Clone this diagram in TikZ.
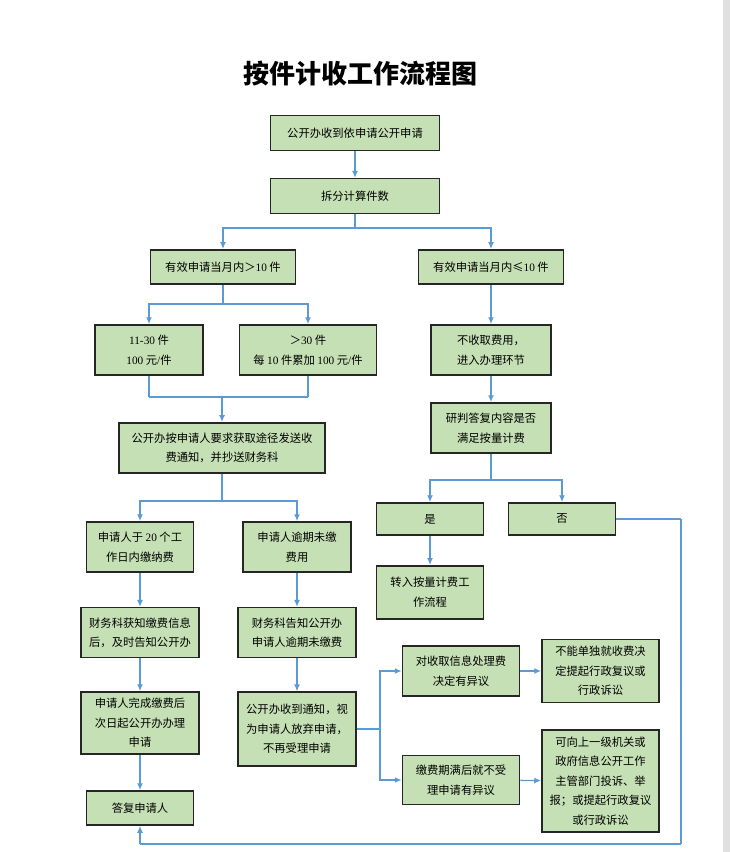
\documentclass[tikz,border=0pt]{standalone}
\usepackage{fontspec}
\setmainfont{Liberation Serif}
\newfontfamily\cjk{Noto Sans CJK SC}
\usepackage{tikz}
\usetikzlibrary{
  arrows.meta,
  chains,
  positioning,
  scopes
}
\definecolor{boxgreen}{HTML}{C5E0B4}
\definecolor{linkblue}{HTML}{5B9BD5}
\newcommand{\num}[1]{{\rmfamily #1}}

\begin{document}
\begin{tikzpicture}[
      x=1pt, y=-1pt,
      box/.style={
         rectangle,
         inner sep=0pt,
         line width=1.5pt,
         draw=black!85,
         fill=boxgreen,
         align=center,
         font=\cjk\fontsize{11.3}{19.5}\selectfont
      },
      boxsize/.style 2 args={minimum width=#1pt, minimum height=#2pt},
      point/.style={coordinate},>={Latex[length=7pt,width=6pt]},
      tip/.style={->},every join/.style={draw=linkblue, line width=1.4pt},
      hv path/.style={to path={-| (\tikztotarget)}},
      vh path/.style={to path={|- (\tikztotarget)}},
    ]
    \useasboundingbox (0,0) rectangle (730,852);
    \fill[black!12] (723,0) rectangle (730,852);
    \node (title) at (360,74) {\cjk\bfseries\fontsize{26}{30}\selectfont 按件计收工作流程图};
    % left branch
    \node (recv)   [box, boxsize={169.4}{34.6}] at (355,133) {公开办收到依申请公开申请};
    \node (split)  [box, boxsize={169.4}{34.6}] at (355,196) {拆分计算件数};
    \node (over)   [box, boxsize={144.7}{34.3}] at (223,267) {有效申请当月内＞\num{10} 件};
    \node (under)  [box, boxsize={144.7}{34.3}] at (491,267) {有效申请当月内≤\num{10} 件};
    \node (range)  [box, boxsize={108.4}{50}]   at (149,350) {\num{11-30} 件\\\num{100} 元\num{/}件};
    \node (above)  [box, boxsize={136.9}{50}]   at (308,350) {＞\num{30} 件\\每 \num{10} 件累加 \num{100} 元\num{/}件};
    \node (notify) [box, boxsize={205.7}{50.3}] at (222,448) {公开办按申请人要求获取途径发送收\\费通知，并抄送财务科};
    \node (paid)   [box, boxsize={107.2}{50}]   at (140,547) {申请人于 \num{20} 个工\\作日内缴纳费};
    \node (unpaid) [box, boxsize={108}{50}]     at (297,547) {申请人逾期未缴\\费用};
    \node (fin)    [box, boxsize={118}{50}]     at (140,632.7) {财务科获知缴费信息\\后，及时告知公开办};
    \node (finlate)[box, boxsize={118}{50}]     at (297,632.7) {财务科告知公开办\\申请人逾期未缴费};
    \node (done)   [box, boxsize={118}{62}]     at (140,723) {申请人完成缴费后\\次日起公开办办理\\申请};
    \node (drop)   [box, boxsize={118}{73.7}]   at (297,729) {公开办收到通知，视\\为申请人放弃申请，\\不再受理申请};
    \node (reply)  [box, boxsize={107}{34}]     at (140,808) {答复申请人};
    % right branch
    \node (free)   [box, boxsize={120}{50}]     at (491,350) {不收取费用，\\进入办理环节};
    \node (judge)  [box, boxsize={120}{50}]     at (491,428) {研判答复内容是否\\满足按量计费};
    \node (yes)    [box, boxsize={107}{32}]     at (430,519) {是};
    \node (no)     [box, boxsize={107.4}{32}]   at (562,519) {否};
    \node (volume) [box, boxsize={107}{53.3}]   at (430,592.4) {转入按量计费工\\作流程};
    \node (object) [box, boxsize={117}{50}]     at (461,671) {对收取信息处理费\\决定有异议};
    \node (noappeal)[box, boxsize={117}{63}]    at (600.5,671) {不能单独就收费决\\定提起行政复议或\\行政诉讼};
    \node (late)   [box, boxsize={117}{49.3}]   at (461,780) {缴费期满后就不受\\理申请有异议};
    \node (complain)[box, boxsize={117}{101.7}] at (600.5,781) {可向上一级机关或\\政府信息公开工作\\主管部门投诉、举\\报；或提起行政复议\\或行政诉讼};
    % branch points
    \node (sp1) [point] at (355,228) {};
    \node (sp2) [point] at (223,304) {};
    \node (m5)  [point] at (149,397) {};
    \node (m6)  [point] at (308,397) {};
    \node (mg)  [point] at (222,397) {};
    \node (sp3) [point] at (222,501) {};
    \node (sp4) [point] at (380,729) {};
    \node (sp5) [point] at (491,480) {};
    \node (c1)  [point] at (681,519) {};
    \node (c2)  [point] at (681,844) {};
    \node (c3)  [point] at (140,844) {};
  { [start chain]
       \chainin (recv);
       \chainin (split)    [join=by tip];
       \chainin (sp1)      [join];
       \chainin (over)     [join=by {hv path,tip}];
  }
  { [start chain]
       \chainin (sp1);
       \chainin (under)    [join=by {hv path,tip}];
       \chainin (free)     [join=by tip];
       \chainin (judge)    [join=by tip];
       \chainin (sp5)      [join];
       \chainin (yes)      [join=by {hv path,tip}];
       \chainin (volume)   [join=by tip];
  }
  { [start chain]
       \chainin (sp5);
       \chainin (no)       [join=by {hv path,tip}];
       \chainin (c1)       [join];
       \chainin (c2)       [join];
       \chainin (c3)       [join];
       \chainin (reply)    [join=by tip];
  }
  { [start chain]
       \chainin (over);
       \chainin (sp2)      [join];
       \chainin (range)    [join=by {hv path,tip}];
       \chainin (m5)       [join];
       \chainin (m6)       [join];
       \chainin (above)    [join];
  }
  { [start chain]
       \chainin (sp2);
       \chainin (above)    [join=by {hv path,tip}];
  }
  { [start chain]
       \chainin (mg);
       \chainin (notify)   [join=by tip];
       \chainin (sp3)      [join];
       \chainin (paid)     [join=by {hv path,tip}];
       \chainin (fin)      [join=by tip];
       \chainin (done)     [join=by tip];
       \chainin (reply)    [join=by tip];
  }
  { [start chain]
       \chainin (sp3);
       \chainin (unpaid)   [join=by {hv path,tip}];
       \chainin (finlate)  [join=by tip];
       \chainin (drop)     [join=by tip];
       \chainin (sp4)      [join];
       \chainin (object)   [join=by {vh path,tip}];
       \chainin (noappeal) [join=by tip];
  }
  { [start chain]
       \chainin (sp4);
       \chainin (late)     [join=by {vh path,tip}];
       \chainin (complain) [join=by tip];
  }
\end{tikzpicture}
\end{document}
